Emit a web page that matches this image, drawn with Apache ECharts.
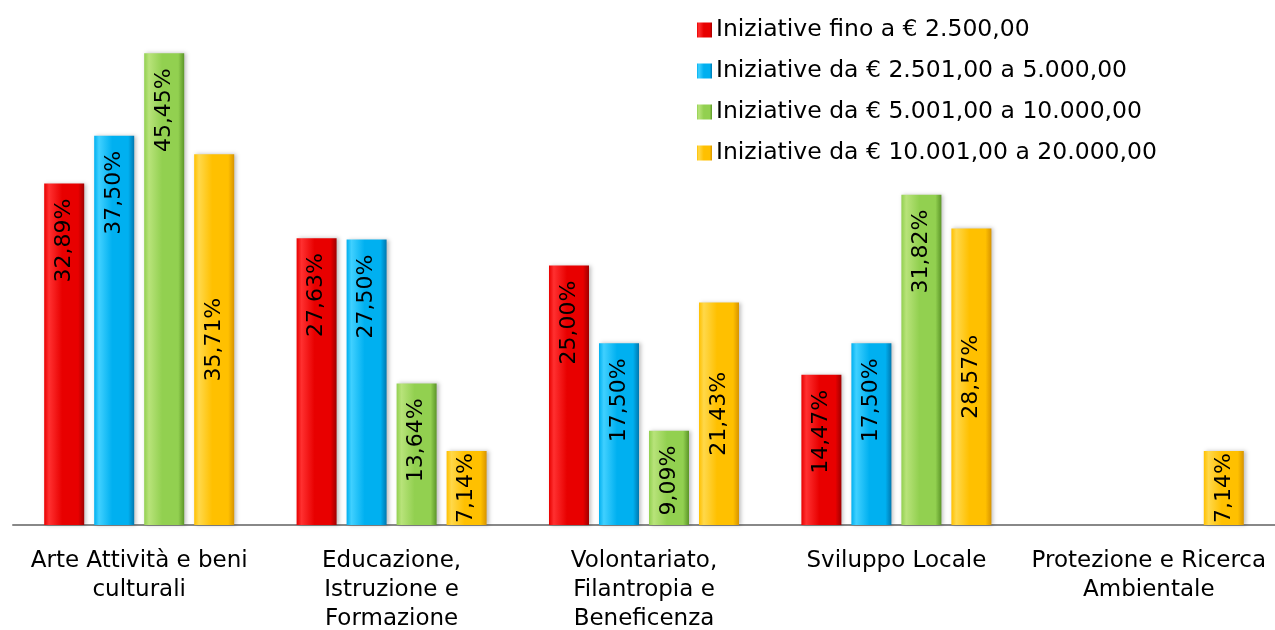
<!DOCTYPE html>
<html>
<head>
<meta charset="utf-8">
<script src="https://cdn.jsdelivr.net/npm/echarts@6/dist/echarts.min.js"></script>
<style>
  html, body { margin: 0; padding: 0; background: #fff; }
  #chart { width: 1275px; height: 630px; }
</style>
</head>
<body>
<div id="chart"></div>
<script>
  // categorie
  const categories = [
    'Arte Attività e beni\nculturali',
    'Educazione,\nIstruzione e\nFormazione',
    'Volontariato,\nFilantropia e\nBeneficenza',
    'Sviluppo Locale',
    'Protezione e Ricerca\nAmbientale'
  ];
  const seriesNames = [
    'Iniziative fino a € 2.500,00',
    'Iniziative da € 2.501,00 a 5.000,00',
    'Iniziative da € 5.001,00 a 10.000,00',
    'Iniziative da € 10.001,00 a 20.000,00'
  ];
  const fino2500 = [32.89, 27.63, 25.00, 14.47, null];
  const da2501 = [37.50, 27.50, 17.50, 17.50, null];
  const da5001 = [45.45, 13.64, 9.09, 31.82, null];
  const da10001 = [35.71, 7.14, 21.43, 28.57, 7.14];

  const FONT = '"DejaVu Sans", sans-serif';
  const colors = [
    ['#ff3030', '#e80000', '#a00000'],
    ['#40d0ff', '#00b0f0', '#0078b0'],
    ['#b8e37a', '#92d050', '#5c9628'],
    ['#ffd84a', '#ffc000', '#d89400']
  ];

  function grad(c) {
    return new echarts.graphic.LinearGradient(0, 0, 1, 0, [
      { offset: 0, color: c[1] },
      { offset: 0.12, color: c[0] },
      { offset: 0.45, color: c[1] },
      { offset: 0.85, color: c[1] },
      { offset: 1, color: c[2] }
    ]);
  }

  const fmt = v => v.toFixed(2).replace('.', ',') + '%';

  function makeSeries(name, values, idx) {
    // giallo: etichetta al centro, gli altri in alto
    const centered = idx === 3;
    return {
      name: name,
      type: 'bar',
      barWidth: 40,
      barGap: '25%',
      itemStyle: {
        color: grad(colors[idx]),
        shadowColor: 'rgba(0,0,0,0.25)',
        shadowBlur: 4,
        shadowOffsetX: 2
      },
      data: values,
      label: {
        show: true,
        position: centered ? 'inside' : 'insideTop',
        rotate: 90,
        color: '#000',
        fontFamily: FONT,
        fontSize: 22,
        align: centered ? 'center' : 'right',
        verticalAlign: 'middle',
        distance: 15,
        formatter: p => fmt(p.value)
      }
    };
  }

  const chart = echarts.init(document.getElementById('chart'));
  chart.setOption({
    animation: false,
    color: colors.map(c => c[1]),
    legend: {
      orient: 'vertical',
      left: 692,
      top: 13,
      itemGap: 17,
      itemWidth: 15,
      itemHeight: 15,
      icon: 'rect',
      textStyle: { fontFamily: FONT, fontSize: 23.5, color: '#000', padding: [0, 0, 0, -1] },
      data: seriesNames
    },
    grid: { left: 13, right: 0, top: 6, bottom: 105, outerBoundsMode: 'none', containLabel: false },
    xAxis: {
      type: 'category',
      data: categories,
      axisLine: { lineStyle: { color: '#888', width: 2 } },
      axisTick: { show: false },
      axisLabel: {
        interval: 0,
        color: '#000',
        fontFamily: FONT,
        fontSize: 23,
        lineHeight: 29,
        margin: 22
      }
    },
    yAxis: {
      type: 'value',
      min: 0,
      max: 50,
      show: false,
      splitLine: { show: false }
    },
    series: [
      makeSeries(seriesNames[0], fino2500, 0),
      makeSeries(seriesNames[1], da2501, 1),
      makeSeries(seriesNames[2], da5001, 2),
      makeSeries(seriesNames[3], da10001, 3)
    ]
  });
</script>
</body>
</html>
